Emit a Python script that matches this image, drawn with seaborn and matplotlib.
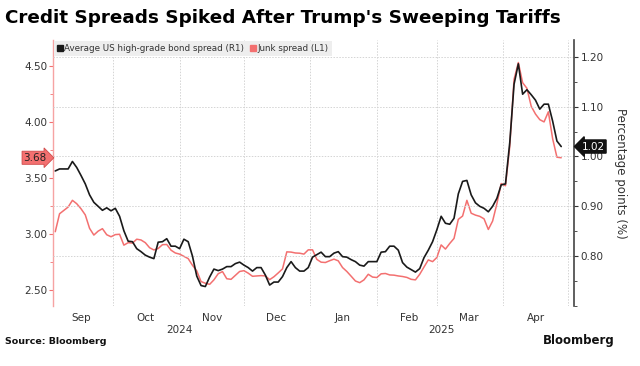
import matplotlib
matplotlib.use("Agg")
import matplotlib.pyplot as plt
import matplotlib.dates as mdates
import matplotlib.transforms as mtransforms
from matplotlib.lines import Line2D
import seaborn as sns
import pandas as pd

# data, one value every 2 days from Sep 4 2024 to Apr 28 2025
start_date = "2024-09-04"
end_date = "2025-04-28"

# Average US high-grade bond spread (right axis)
high_grade = [0.971, 0.975, 0.975, 0.975, 0.990, 0.978, 0.962, 0.945, 0.923, 0.908,
              0.900, 0.892, 0.897, 0.891, 0.896, 0.880, 0.851, 0.830, 0.829, 0.815,
              0.809, 0.802, 0.798, 0.795, 0.828, 0.829, 0.835, 0.820, 0.820, 0.815,
              0.834, 0.829, 0.800, 0.760, 0.741, 0.739, 0.758, 0.774, 0.771, 0.774,
              0.779, 0.779, 0.785, 0.788, 0.782, 0.777, 0.770, 0.777, 0.777, 0.762,
              0.742, 0.748, 0.748, 0.759, 0.777, 0.789, 0.777, 0.770, 0.770, 0.777,
              0.798, 0.803, 0.808, 0.799, 0.799, 0.806, 0.809, 0.799, 0.798, 0.793,
              0.789, 0.782, 0.780, 0.789, 0.789, 0.789, 0.808, 0.809, 0.820, 0.820,
              0.812, 0.787, 0.778, 0.773, 0.768, 0.775, 0.797, 0.812, 0.829, 0.853,
              0.880, 0.866, 0.864, 0.876, 0.925, 0.950, 0.952, 0.923, 0.907, 0.900,
              0.896, 0.889, 0.900, 0.916, 0.943, 0.945, 1.028, 1.145, 1.186, 1.125,
              1.134, 1.124, 1.113, 1.095, 1.105, 1.105, 1.071, 1.031, 1.020]

# Junk spread (left axis)
junk = [3.02, 3.18, 3.21, 3.24, 3.30, 3.27, 3.225, 3.17, 3.05, 2.99,
        3.025, 3.047, 2.993, 2.975, 2.994, 2.997, 2.90, 2.922, 2.918, 2.953,
        2.946, 2.922, 2.877, 2.857, 2.870, 2.904, 2.906, 2.855, 2.83, 2.82,
        2.80, 2.78, 2.72, 2.67, 2.575, 2.56, 2.55, 2.59, 2.645, 2.664,
        2.60, 2.595, 2.63, 2.665, 2.672, 2.65, 2.622, 2.625, 2.628, 2.625,
        2.592, 2.618, 2.652, 2.688, 2.84, 2.838, 2.830, 2.828, 2.82, 2.858,
        2.858, 2.773, 2.748, 2.745, 2.761, 2.775, 2.76, 2.70, 2.665, 2.623,
        2.58, 2.565, 2.59, 2.64, 2.615, 2.611, 2.644, 2.647, 2.634, 2.632,
        2.625, 2.62, 2.612, 2.595, 2.59, 2.64, 2.705, 2.768, 2.753, 2.79,
        2.902, 2.865, 2.915, 2.96, 3.13, 3.16, 3.30, 3.185, 3.168, 3.157,
        3.135, 3.04, 3.115, 3.27, 3.45, 3.43, 3.78, 4.38, 4.53, 4.35,
        4.30, 4.14, 4.07, 4.02, 4.00, 4.09, 3.85, 3.685, 3.68]

left_ticks = [2.5, 3.0, 3.5, 4.0, 4.5]
right_ticks = [0.8, 0.9, 1.0, 1.1, 1.2]
legend_labels = ["Average US high-grade bond spread (R1)", "Junk spread (L1)"]

red = "#f37070"
dark = "#1a1a1a"
txt = "#333333"

dates = pd.date_range(start_date, end_date, freq="2D")
df = pd.DataFrame({"date": dates, "high_grade": high_grade, "junk": junk})

sns.set_style("white")
plt.rcParams["font.family"] = ["DejaVu Sans"]

fig = plt.figure(figsize=(6.4, 3.66), dpi=100)
ax = fig.add_axes([0.083, 0.164, 0.814, 0.727])
ax2 = ax.twinx()

sns.lineplot(data=df, x="date", y="junk", ax=ax, color=red, lw=1.1)
sns.lineplot(data=df, x="date", y="high_grade", ax=ax2, color=dark, lw=1.2)

ax.set_xlim(pd.Timestamp("2024-09-03"), pd.Timestamp("2025-05-04"))
ax.set_ylim(2.357, 4.732)
ax2.set_ylim(0.70, 1.234)
ax.set_xlabel("")
ax.set_ylabel("")

# left axis (junk)
ax.set_yticks(left_ticks)
ax.set_yticklabels([f"{v:.2f}" for v in left_ticks])
ax.set_yticks([2.75, 3.25, 3.75, 4.25], minor=True)
ax.tick_params(axis="y", which="major", length=3, color=red, labelsize=7.5,
               labelcolor=txt, pad=1)
ax.tick_params(axis="y", which="minor", length=2, color=red, left=True)

# right axis (high grade)
ax2.set_yticks(right_ticks)
ax2.set_yticklabels([f"{v:.2f}" for v in right_ticks])
ax2.set_yticks([0.70, 0.75, 0.85, 0.95, 1.05, 1.15], minor=True)
ax2.tick_params(axis="y", which="major", length=3, color=txt, labelsize=7.5,
                labelcolor=txt, pad=1.5)
ax2.tick_params(axis="y", which="minor", length=2, color=txt, right=True)
ax2.set_ylabel("Percentage points (%)", rotation=270, fontsize=8.5, color=txt,
               va="center")
ax2.yaxis.set_label_coords(1.09, 0.5)

# x axis: month boundaries as ticks and grid, labels in mid-month
ax.xaxis.set_major_locator(mdates.MonthLocator())
ax.xaxis.set_major_formatter(plt.NullFormatter())
ax.xaxis.set_minor_locator(mdates.MonthLocator(bymonthday=16))
ax.xaxis.set_minor_formatter(mdates.DateFormatter("%b"))
ax.tick_params(axis="x", which="major", length=4, color="#cccccc")
ax.tick_params(axis="x", which="minor", length=0, labelsize=7.5,
               labelcolor=txt, pad=5)

grid_kw = dict(color="#d4d4d4", lw=0.7, ls=(0, (1.5, 1.5)))
ax.grid(axis="x", which="major", **grid_kw)
ax.grid(axis="y", visible=False)
ax2.grid(axis="y", which="major", **grid_kw)
ax2.grid(axis="x", visible=False)

for a in (ax, ax2):
    a.spines["top"].set_visible(False)
    a.spines["bottom"].set_visible(False)
ax2.spines["left"].set_visible(False)
ax.spines["right"].set_visible(False)
ax.spines["left"].set_color("#f6a3a3")
ax.spines["left"].set_linewidth(1.0)
ax2.spines["right"].set_color("#444444")
ax2.spines["right"].set_linewidth(1.2)

# year labels under the months
year_tr = mtransforms.blended_transform_factory(ax.transData, ax.transAxes)
ax.text(mdates.date2num(pd.Timestamp("2024-11-01")), -0.092, "2024",
        transform=year_tr, ha="center", va="center", fontsize=7.5, color=txt)
ax.text(mdates.date2num(pd.Timestamp("2025-03-03")), -0.092, "2025",
        transform=year_tr, ha="center", va="center", fontsize=7.5, color=txt)

# last value tags
tr_l = mtransforms.blended_transform_factory(ax.transAxes, ax.transData)
ax.text(-0.012, junk[-1], f"{junk[-1]:.2f}", transform=tr_l, ha="right",
        va="center", fontsize=7.5, color="#222222", clip_on=False,
        bbox=dict(boxstyle="rarrow,pad=0.15", fc=red, ec="#d04a4a", lw=0.6))
tr_r = mtransforms.blended_transform_factory(ax2.transAxes, ax2.transData)
ax2.text(1.014, high_grade[-1], f"{high_grade[-1]:.2f}", transform=tr_r,
         ha="left", va="center", fontsize=7.5, color="white", clip_on=False,
         bbox=dict(boxstyle="larrow,pad=0.15", fc="#111111", ec="#111111"))

# legend in a grey band
handles = [Line2D([], [], marker="s", ls="", color=dark, markersize=5),
           Line2D([], [], marker="s", ls="", color=red, markersize=5)]
leg = ax2.legend(handles, legend_labels, loc="upper left", bbox_to_anchor=(0, 1.0),
                 ncol=2, fontsize=6.3, frameon=True, fancybox=False,
                 handlelength=0.6, handletextpad=0.2, columnspacing=0.7,
                 borderpad=0.35, borderaxespad=0.15, labelcolor=txt)
leg.get_frame().set_facecolor("#eeeeee")
leg.get_frame().set_edgecolor("none")
leg.get_frame().set_alpha(1)

fig.text(0.008, 0.951, "Credit Spreads Spiked After Trump's Sweeping Tariffs",
         fontsize=13.2, fontweight="bold", color="black", ha="left", va="center")
fig.text(0.008, 0.068, "Source: Bloomberg", fontsize=6.8, fontweight="bold",
         color="#111111", ha="left", va="center")
fig.text(0.848, 0.071, "Bloomberg", fontsize=8.5, fontweight="bold",
         color="#111111", ha="left", va="center")

fig.savefig("out.png", dpi=100)
